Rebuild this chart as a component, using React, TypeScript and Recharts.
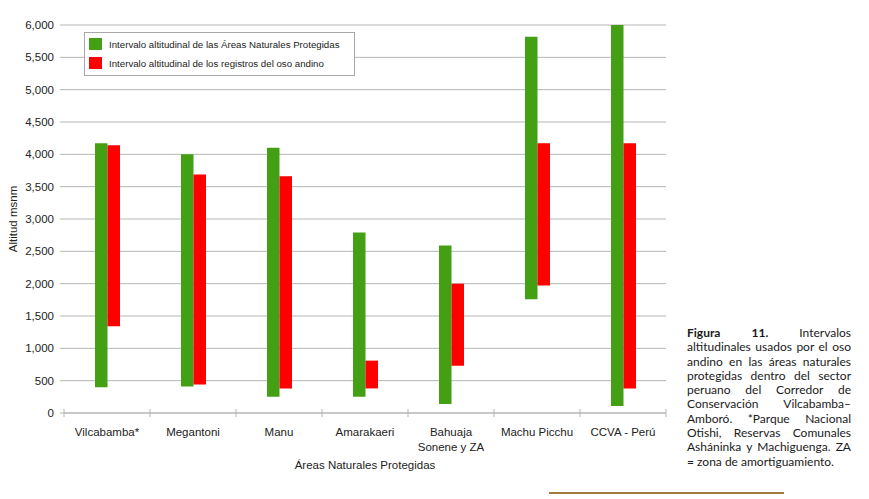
import React from 'react';
import { BarChart, Bar, XAxis, YAxis, CartesianGrid, Legend } from 'recharts';

const categories = ['Vilcabamba*', 'Megantoni', 'Manu', 'Amarakaeri', 'Bahuaja\nSonene y ZA', 'Machu Picchu', 'CCVA - Perú'];
const anpMin = [400, 410, 250, 250, 140, 1760, 110];
const anpMax = [4170, 4000, 4100, 2790, 2590, 5820, 6000];
const osoMin = [1340, 440, 380, 380, 730, 1970, 380];
const osoMax = [4140, 3690, 3660, 810, 2000, 4170, 4170];
const yTicks = [0, 500, 1000, 1500, 2000, 2500, 3000, 3500, 4000, 4500, 5000, 5500, 6000];

const seriesNames = [
  'Intervalo altitudinal de las Áreas Naturales Protegidas',
  'Intervalo altitudinal de los registros del oso andino',
];

const captionLines = [
  'altitudinales usados por el oso',
  'andino en las áreas naturales',
  'protegidas dentro del sector',
  'peruano del Corredor de',
  'Conservación Vilcabamba–',
  'Amboró. *Parque Nacional',
  'Otishi, Reservas Comunales',
  'Asháninka y Machiguenga. ZA',
];
const captionLast = '= zona de amortiguamiento.';

const data = categories.map((c, i) => ({
  name: c,
  anp: [anpMin[i], anpMax[i]],
  oso: [osoMin[i], osoMax[i]],
}));

const FONT = '"Liberation Sans", Arial, sans-serif';
const GRID = '#b5b5b5';
const TEXT = '#222';
const BAND = 86;

function CategoryTick(props: any) {
  const { x, y, payload, index } = props;
  const lines = String(payload.value).split('\n');
  const last = index === categories.length - 1;
  return (
    <g>
      <line x1={x - BAND / 2} x2={x - BAND / 2} y1={y - 4} y2={y + 4} stroke={GRID} />
      {last && <line x1={x + BAND / 2} x2={x + BAND / 2} y1={y - 4} y2={y + 4} stroke={GRID} />}
      <text x={x} y={y + 23} textAnchor="middle" fontSize={11.5} fill={TEXT} fontFamily={FONT}>
        {lines.map((l, k) => (
          <tspan key={k} x={x} dy={k === 0 ? 0 : 15}>
            {l}
          </tspan>
        ))}
      </text>
    </g>
  );
}

function LegendBox(props: any) {
  const { payload } = props;
  return (
    <div
      style={{
        width: 271,
        height: 44,
        border: '1px solid #a8a8a8',
        background: '#fff',
        boxSizing: 'border-box',
        padding: '1.5px 0 0 4px',
      }}
    >
      {(payload || []).map((p: any, i: number) => (
        <div key={i} style={{ display: 'flex', alignItems: 'center', height: 19 }}>
          <span style={{ display: 'inline-block', width: 13, height: 12, background: p.color, marginRight: 7 }} />
          <span style={{ fontSize: 9.7, fontFamily: FONT, color: TEXT, whiteSpace: 'nowrap' }}>{p.value}</span>
        </div>
      ))}
    </div>
  );
}

export default function App() {
  const lineStyle: React.CSSProperties = {
    textAlign: 'justify',
    textAlignLast: 'justify',
    height: 14.3,
    whiteSpace: 'nowrap',
  };
  return (
    <div style={{ position: 'absolute', left: 0, top: 0, width: 869, height: 499, background: '#fff' }}>
      <BarChart
        width={869}
        height={499}
        data={data}
        margin={{ top: 25, right: 203, bottom: 0, left: 0 }}
        barGap={0}
      >
        <CartesianGrid vertical={false} stroke={GRID} />
        <XAxis
          dataKey="name"
          height={86}
          interval={0}
          tickLine={false}
          tickSize={0}
          tickMargin={0}
          axisLine={{ stroke: GRID }}
          tick={<CategoryTick />}
          label={{
            value: 'Áreas Naturales Protegidas',
            position: 'insideBottom',
            offset: 30,
            fill: TEXT,
            fontSize: 11.5,
            fontFamily: FONT,
          }}
        />
        <YAxis
          width={64}
          domain={[0, 6000]}
          ticks={yTicks}
          interval={0}
          axisLine={false}
          tickLine={{ stroke: GRID }}
          tickSize={4}
          tickMargin={6}
          tickFormatter={(v: number) => v.toLocaleString('en-US')}
          tick={{ fontSize: 11.5, fill: TEXT, fontFamily: FONT }}
          label={{
            value: 'Altitud msnm',
            angle: -90,
            position: 'insideLeft',
            offset: 13,
            fill: TEXT,
            fontSize: 11.5,
            fontFamily: FONT,
            style: { textAnchor: 'middle' },
          }}
        />
        <Legend
          layout="vertical"
          align="center"
          verticalAlign="middle"
          wrapperStyle={{ left: 84, top: 32, width: 271, height: 44 }}
          content={<LegendBox />}
        />
        <Bar dataKey="anp" name={seriesNames[0]} fill="#43a015" barSize={12.5} isAnimationActive={false} />
        <Bar dataKey="oso" name={seriesNames[1]} fill="#ff0000" barSize={12.5} isAnimationActive={false} />
      </BarChart>
      <div
        style={{
          position: 'absolute',
          left: 687,
          top: 326,
          width: 164,
          fontFamily: 'Lato, "Open Sans", sans-serif',
          fontSize: 12,
          lineHeight: '14.3px',
          color: '#1a1a1a',
        }}
      >
        <div style={lineStyle}>
          <b>Figura</b> <b>11.</b> Intervalos
        </div>
        {captionLines.map((l, i) => (
          <div key={i} style={lineStyle}>
            {l}
          </div>
        ))}
        <div style={{ height: 14.3, whiteSpace: 'nowrap' }}>{captionLast}</div>
      </div>
      <div style={{ position: 'absolute', left: 549, top: 492, width: 235, height: 2, background: '#9f7c3a' }} />
    </div>
  );
}
